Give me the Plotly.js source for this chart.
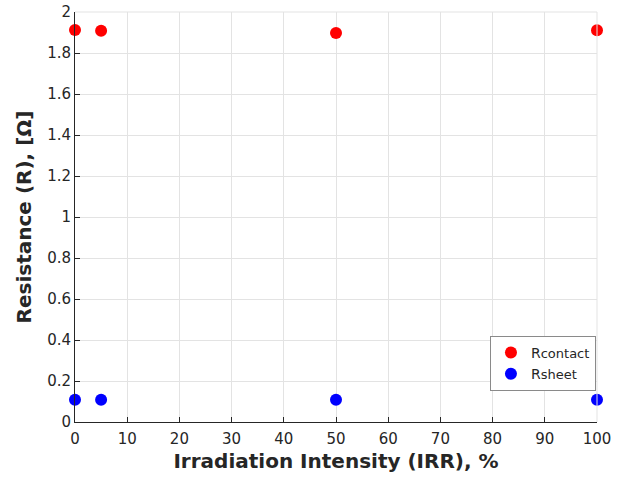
<!DOCTYPE html>
<html>
<head>
<meta charset="utf-8">
<script src="https://cdn.plot.ly/plotly-3.0.1.min.js"></script>
<style>html,body{margin:0;padding:0;background:#fff;}</style>
</head>
<body>
<div id="chart" style="width:620px;height:477px;"></div>
<script>
const irr = [0, 5, 50, 100];
const rContact = [1.912, 1.909, 1.898, 1.911];
const rSheet = [0.108, 0.108, 0.108, 0.108];
const xTicks = [0, 10, 20, 30, 40, 50, 60, 70, 80, 90, 100];
const yTicks = [0, 0.2, 0.4, 0.6, 0.8, 1, 1.2, 1.4, 1.6, 1.8, 2];
const yTickText = ['0', '0.2', '0.4', '0.6', '0.8', '1', '1.2', '1.4', '1.6', '1.8', '2'];

const traces = [
  {x: irr, y: rContact, mode: 'markers', type: 'scatter', cliponaxis: false,
   name: "R<span style='font-size:13px'>contact</span>",
   marker: {color: '#ff0000', size: 12}},
  {x: irr, y: rSheet, mode: 'markers', type: 'scatter', cliponaxis: false,
   name: "R<span style='font-size:13px'>sheet</span>",
   marker: {color: '#0000ff', size: 12}}
];

const layout = {
  width: 620, height: 477,
  margin: {l: 75, r: 23, t: 12, b: 55},
  paper_bgcolor: '#fff', plot_bgcolor: '#fff',
  font: {family: 'DejaVu Sans', color: '#262626', size: 15},
  showlegend: true,
  legend: {x: 0.998, xanchor: 'right', y: 0.21, yanchor: 'top',
           bordercolor: '#8a8a8a', borderwidth: 1, bgcolor: '#fff',
           font: {size: 14, color: '#262626'}, itemwidth: 30, tracegroupgap: 0},
  xaxis: {
    range: [0, 100], tickvals: xTicks, ticktext: xTicks.map(String),
    showgrid: true, gridcolor: '#e3e3e3', gridwidth: 1,
    showline: true, linecolor: '#262626', linewidth: 1,
    ticks: 'inside', ticklen: 5, tickcolor: '#262626',
    zeroline: false, mirror: false, ticklabelstandoff: 3,
    tickfont: {size: 15},
    title: {text: '<b>Irradiation Intensity (IRR), %</b>', font: {size: 20}, standoff: 6}
  },
  yaxis: {
    range: [0, 2], tickvals: yTicks, ticktext: yTickText,
    showgrid: true, gridcolor: '#e3e3e3', gridwidth: 1,
    showline: true, linecolor: '#262626', linewidth: 1,
    ticks: 'inside', ticklen: 5, tickcolor: '#262626',
    zeroline: false, mirror: false,
    tickfont: {size: 15},
    title: {text: '<b>Resistance (R), [Ω]</b>', font: {size: 20}, standoff: 10}
  },
  shapes: [
    {type: 'line', xref: 'paper', yref: 'paper', x0: 0, x1: 1, y0: 1, y1: 1, line: {color: '#e3e3e3', width: 1}},
    {type: 'line', xref: 'paper', yref: 'paper', x0: 1, x1: 1, y0: 0, y1: 1, line: {color: '#e3e3e3', width: 1}}
  ]
};

Plotly.newPlot('chart', traces, layout, {displayModeBar: false, staticPlot: true});
</script>
</body>
</html>
